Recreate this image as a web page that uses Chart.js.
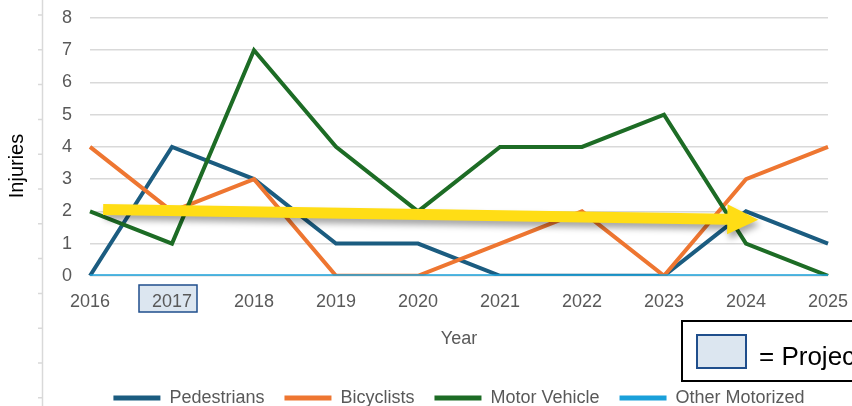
<!DOCTYPE html>
<html>
<head>
<meta charset="utf-8">
<script src="https://cdn.jsdelivr.net/npm/chart.js@4.4.1/dist/chart.umd.min.js"></script>
<style>
  html, body { margin: 0; padding: 0; background: #fff; }
  #wrap { width: 852px; height: 406px; position: relative; }
</style>
</head>
<body>
<div id="wrap"><canvas id="injuryChart"></canvas></div>
<script>
// Injuries by year
const years = ['2016', '2017', '2018', '2019', '2020', '2021', '2022', '2023', '2024', '2025'];
const pedestrians = [0, 4, 3, 1, 1, 0, 0, 0, 2, 1];
const bicyclists = [4, 2, 3, 0, 0, 1, 2, 0, 3, 4];
const motorVehicle = [2, 1, 7, 4, 2, 4, 4, 5, 1, 0];
const otherMotorized = [0, 0, 0, 0, 0, 0, 0, 0, 0, 0];
const projectYears = ['2017'];
// trend arrow ends as [year index, injuries]
const trendArrow = [[0.16, 2.06], [8.15, 1.74]];

Chart.defaults.font.family = '"Liberation Sans", Arial, sans-serif';

const grey = '#595959';

const extras = {
    id: 'extras',
    beforeDraw(chart) {
        const ctx = chart.ctx;
        const x = chart.scales.x;
        ctx.save();
        // ruler line on the left
        ctx.strokeStyle = '#d9d9d9';
        ctx.lineWidth = 1.5;
        ctx.beginPath();
        ctx.moveTo(42.5, 0);
        ctx.lineTo(42.5, 406);
        for (let yy = 15; yy < 406; yy += 34.8) {
            ctx.moveTo(38, yy);
            ctx.lineTo(42.5, yy);
        }
        ctx.stroke();
        // project year boxes behind the tick labels
        projectYears.forEach(yr => {
            const px = x.getPixelForValue(years.indexOf(yr));
            ctx.fillStyle = '#dce6f0';
            ctx.strokeStyle = '#1f4e8c';
            ctx.lineWidth = 1.5;
            ctx.fillRect(px - 33, 285, 58, 27);
            ctx.strokeRect(px - 33, 285, 58, 27);
        });
        // y axis title
        ctx.translate(17, 166);
        ctx.rotate(-Math.PI / 2);
        ctx.fillStyle = '#000';
        ctx.font = '20px "Liberation Sans", Arial, sans-serif';
        ctx.textAlign = 'center';
        ctx.textBaseline = 'middle';
        ctx.fillText('Injuries', 0, 0);
        ctx.restore();
    },
    afterDatasetsDraw(chart) {
        const ctx = chart.ctx;
        const {x, y} = chart.scales;
        const [p0, p1] = trendArrow.map(([i, v]) => [x.getPixelForValue(i), y.getPixelForValue(v)]);
        const dx = p1[0] - p0[0], dy = p1[1] - p0[1];
        const len = Math.hypot(dx, dy);
        const ux = dx / len, uy = dy / len;
        const nx = -uy, ny = ux;
        const headLen = 31, headW = 15, shaftW = 5.5;
        const bx = p1[0] - ux * headLen, by = p1[1] - uy * headLen;
        ctx.save();
        ctx.shadowColor = 'rgba(0,0,0,0.35)';
        ctx.shadowBlur = 6;
        ctx.shadowOffsetX = 2;
        ctx.shadowOffsetY = 5;
        ctx.fillStyle = '#ffdd15';
        ctx.beginPath();
        ctx.moveTo(p0[0] + nx * shaftW, p0[1] + ny * shaftW);
        ctx.lineTo(bx + nx * shaftW, by + ny * shaftW);
        ctx.lineTo(bx + nx * headW, by + ny * headW);
        ctx.lineTo(p1[0], p1[1]);
        ctx.lineTo(bx - nx * headW, by - ny * headW);
        ctx.lineTo(bx - nx * shaftW, by - ny * shaftW);
        ctx.lineTo(p0[0] - nx * shaftW, p0[1] - ny * shaftW);
        ctx.closePath();
        ctx.fill();
        ctx.restore();
    },
    afterDraw(chart) {
        const ctx = chart.ctx;
        ctx.save();
        // "= Project" key box
        ctx.fillStyle = '#fff';
        ctx.strokeStyle = '#000';
        ctx.lineWidth = 2;
        ctx.fillRect(682, 321, 190, 60);
        ctx.strokeRect(682, 321, 190, 60);
        ctx.fillStyle = '#dce6f0';
        ctx.strokeStyle = '#1f4e8c';
        ctx.fillRect(697, 335, 49, 33);
        ctx.strokeRect(697, 335, 49, 33);
        ctx.fillStyle = '#000';
        ctx.font = '26px "Liberation Sans", Arial, sans-serif';
        ctx.textAlign = 'left';
        ctx.textBaseline = 'alphabetic';
        ctx.fillText('= Project Year', 759, 365);
        ctx.restore();
    }
};

const ctx = document.getElementById('injuryChart').getContext('2d');
new Chart(ctx, {
    type: 'line',
    data: {
        labels: years,
        datasets: [
            { label: 'Pedestrians', data: pedestrians, borderColor: '#1b5c80', backgroundColor: '#1b5c80', order: 4 },
            { label: 'Bicyclists', data: bicyclists, borderColor: '#ee7631', backgroundColor: '#ee7631', order: 3 },
            { label: 'Motor Vehicle', data: motorVehicle, borderColor: '#1d6c25', backgroundColor: '#1d6c25', order: 2 },
            { label: 'Other Motorized', data: otherMotorized, borderColor: '#1aa0da', backgroundColor: '#1aa0da', order: 1, borderWidth: 3 }
        ]
    },
    options: {
        responsive: true,
        maintainAspectRatio: false,
        animation: false,
        elements: {
            line: { borderWidth: 4, tension: 0 },
            point: { radius: 0, hoverRadius: 0 }
        },
        layout: { padding: { top: 18, right: 24, bottom: -11, left: 0 } },
        scales: {
            x: {
                offset: false,
                grid: { display: false, drawTicks: false },
                border: { display: false },
                ticks: { color: grey, font: { size: 18 }, padding: 15, maxRotation: 0, autoSkip: false },
                title: { display: true, text: 'Year', color: grey, font: { size: 18 }, padding: { top: 1, bottom: 19 } },
                afterFit(scale) { scale.paddingLeft = 0; scale.paddingRight = 0; }
            },
            y: {
                min: 0,
                max: 8,
                grid: { color: '#d9d9d9', lineWidth: 1.5, drawTicks: false },
                border: { display: false },
                ticks: { stepSize: 1, color: grey, font: { size: 18 }, padding: 18 },
                afterFit(scale) { scale.width = 90; scale.paddingTop = 0; scale.paddingBottom = 0; }
            }
        },
        plugins: {
            legend: {
                position: 'bottom',
                fullSize: false,
                labels: {
                    color: grey,
                    font: { size: 18 },
                    boxWidth: 47,
                    boxHeight: 5,
                    padding: 20,
                    sort: (a, b) => a.datasetIndex - b.datasetIndex,
                    generateLabels(chart) {
                        return Chart.defaults.plugins.legend.labels.generateLabels(chart)
                            .map(l => Object.assign(l, { lineWidth: 0 }));
                    }
                }
            },
            tooltip: { enabled: false }
        }
    },
    plugins: [extras]
});
</script>
</body>
</html>
